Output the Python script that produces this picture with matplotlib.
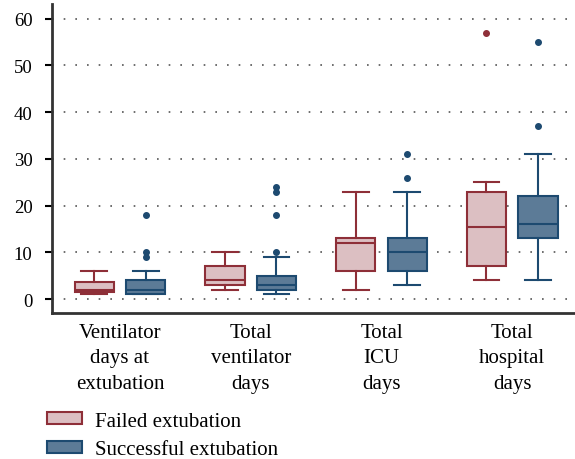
import matplotlib
matplotlib.use("Agg")
import matplotlib.pyplot as plt
from matplotlib.patches import Patch

plt.rcParams['font.family'] = ['Liberation Serif', 'DejaVu Serif']

categories = ["Ventilator\ndays at\nextubation", "Total\nventilator\ndays",
              "Total\nICU\ndays", "Total\nhospital\ndays"]
series_names = ["Failed extubation", "Successful extubation"]

# [whislo, q1, med, q3, whishi]
failed_stats = [
    [1, 1.5, 2, 3.6, 6],
    [2, 3, 4, 7, 10],
    [2, 6, 12, 13, 23],
    [4, 7, 15.5, 23, 25],
]
failed_fliers = [[], [], [], [57]]

success_stats = [
    [1, 1, 2, 4, 6],
    [1, 2, 3, 5, 9],
    [3, 6, 10, 13, 23],
    [4, 13, 16, 22, 31],
]
success_fliers = [[9, 10, 18], [10, 18, 23, 24], [26, 31], [37, 55]]

yticks = [0, 10, 20, 30, 40, 50, 60]

fig = plt.figure(figsize=(5.75, 4.6), dpi=100)
ax = fig.add_axes([0.0904, 0.317, 0.9096, 0.672])

f_face, f_edge = "#dcbfc2", "#8e2f38"
s_face, s_edge = "#5c7b97", "#1d4a70"

def make_stats(stats, fliers):
    out = []
    for (lo, q1, med, q3, hi), fl in zip(stats, fliers):
        out.append(dict(whislo=lo, q1=q1, med=med, q3=q3, whishi=hi, fliers=fl))
    return out

off = 0.197
w = 0.30
for stats, fliers, face, edge, sgn in [
    (failed_stats, failed_fliers, f_face, f_edge, -1),
    (success_stats, success_fliers, s_face, s_edge, 1),
]:
    pos = [i + 1 + sgn * off for i in range(len(categories))]
    ax.bxp(make_stats(stats, fliers), positions=pos, widths=w, patch_artist=True,
           showfliers=True,
           boxprops=dict(facecolor=face, edgecolor=edge, linewidth=1.5),
           medianprops=dict(color=edge, linewidth=1.5),
           whiskerprops=dict(color=edge, linewidth=1.5),
           capprops=dict(color=edge, linewidth=1.5),
           capwidths=w * 0.66,
           flierprops=dict(marker='o', markersize=4, markerfacecolor=edge,
                           markeredgecolor=edge))

ax.set_xlim(0.48, 4.48)
ax.set_ylim(-3, 63.1)
ax.set_yticks(yticks)
ax.set_xticks(range(1, len(categories) + 1))
ax.set_xticklabels(categories, fontsize=15, linespacing=1.45)
ax.tick_params(axis='x', length=0, pad=7)
ax.tick_params(axis='y', labelsize=13.5, length=5, width=1.5, direction='out', pad=9)
ax.yaxis.grid(True, linestyle=(0, (1, 6)), color='#555555', linewidth=1.2)
ax.set_axisbelow(True)
for s in ['top', 'right']:
    ax.spines[s].set_visible(False)
for s in ['left', 'bottom']:
    ax.spines[s].set_linewidth(2)
    ax.spines[s].set_color('#333333')

handles = [Patch(facecolor=f_face, edgecolor=f_edge, linewidth=1.5, label=series_names[0]),
           Patch(facecolor=s_face, edgecolor=s_edge, linewidth=1.5, label=series_names[1])]
fig.legend(handles=handles, loc='lower left', bbox_to_anchor=(47 / 575, 0.0),
           frameon=False, fontsize=15, handlelength=1.7, handleheight=0.5,
           handletextpad=0.6, labelspacing=0.45, borderaxespad=0.0, borderpad=0.0)

fig.savefig("out.png", dpi=100)
